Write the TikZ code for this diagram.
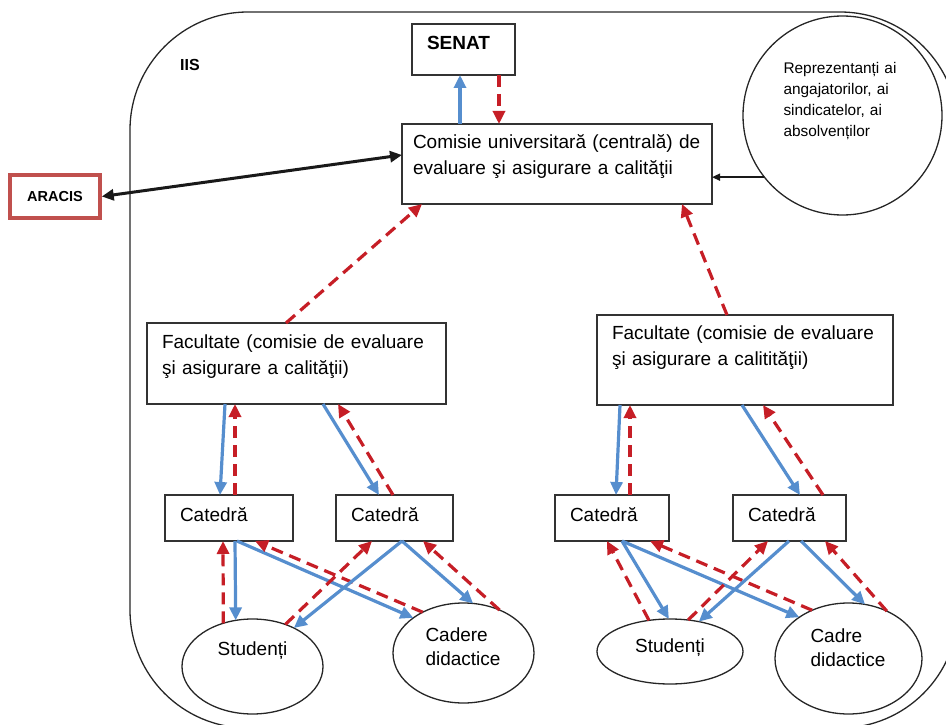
\documentclass[tikz,border=0pt]{standalone}
\usepackage{fontspec}
\setmainfont{Liberation Sans}
\usetikzlibrary{arrows.meta,shapes.geometric}

\definecolor{flowblue}{RGB}{86,142,206}
\definecolor{backred}{RGB}{198,30,38}
\definecolor{aracisred}{RGB}{192,80,77}

\begin{document}
\begin{tikzpicture}[x=1pt,y=-1pt,
    box/.style={draw=black!80, line width=1.3pt, rectangle, inner xsep=15pt, inner ysep=0pt, outer sep=0pt, align=left, font=\fontsize{19}{26}\selectfont},
    oval/.style={draw=black!85, line width=1.3pt, ellipse, inner sep=0pt, outer sep=0pt, font=\fontsize{19}{24}\selectfont},
    tip/.style={-{Triangle[length=13pt,width=12pt]}},
    instr/.style={tip, draw=flowblue, line width=3.2pt},
    feedback/.style={tip, draw=backred, line width=3.2pt, dash pattern=on 12pt off 7pt}]
    \useasboundingbox (0,0) rectangle (946,725);
    \clip (0,0) rectangle (946,725);
    % IIS frame
    \draw [black!85, line width=1.3pt, rounded corners=118pt] (130,12) rectangle (958,728);
    \node [font=\bfseries\fontsize{16}{19}\selectfont] (iis) at (190,65) {IIS};
    % central level
    \node [box, minimum width=103pt, minimum height=51pt, text width=73pt, text depth=13pt, font=\bfseries\fontsize{19}{26}\selectfont] (senat) at (463.5,49.5) {SENAT};
    \node [box, inner xsep=11pt, minimum width=310pt, minimum height=80pt, text width=288pt, text depth=46pt] (com) at (557,164) {Comisie universitară (centrală) de\\evaluare şi asigurare a calităţii};
    \node [circle, draw=black!85, line width=1.3pt, minimum size=199pt, inner sep=0pt, text width=118pt, align=left, text depth=96pt, font=\fontsize{15.4}{21}\selectfont] (rep) at (842.5,115.5) {Reprezentanți ai\\angajatorilor, ai\\sindicatelor, ai\\absolvenților};
    \node [draw=aracisred, line width=3.5pt, minimum width=90pt, minimum height=43pt, inner sep=0pt, font=\bfseries\fontsize{14.5}{17}\selectfont] (aracis) at (55,196.5) {ARACIS};
    % faculties
    \node [box, minimum width=299pt, minimum height=81pt, text width=269pt, text depth=43pt] (fac1) at (296.5,363.5) {Facultate (comisie de evaluare\\şi asigurare a calităţii)};
    \node [box, minimum width=296pt, minimum height=90pt, text width=266pt, text depth=54pt] (fac2) at (745,360) {Facultate (comisie de evaluare\\şi asigurare a calitităţii)};
    % departments
    \node [box, minimum width=128pt, minimum height=46pt, text width=98pt, text depth=8pt] (cat1) at (229,518) {Catedră};
    \node [box, minimum width=117pt, minimum height=46pt, text width=87pt, text depth=8pt] (cat2) at (394.5,518) {Catedră};
    \node [box, minimum width=114pt, minimum height=46pt, text width=84pt, text depth=8pt] (cat3) at (612,518) {Catedră};
    \node [box, minimum width=113pt, minimum height=46pt, text width=83pt, text depth=8pt] (cat4) at (789.5,518) {Catedră};
    % students and staff
    \node [oval, minimum width=141pt, minimum height=95pt, text depth=35pt] (stud1) at (252.5,666.5) {Studenți};
    \node [oval, minimum width=141pt, minimum height=100pt, text width=76pt, align=left, text depth=36pt] (cad1) at (463.5,653) {Cadere\\didactice};
    \node [oval, minimum width=146pt, minimum height=65pt, text depth=11pt] (stud2) at (670,651.5) {Studenți};
    \node [oval, minimum width=147pt, minimum height=111pt, text width=76pt, align=left, text depth=45pt] (cad2) at (848.5,658.5) {Cadre\\didactice};
    % top links
    \draw [black!90, line width=3pt, {Triangle[length=12pt,width=11pt]}-{Triangle[length=12pt,width=11pt]}] (aracis.east) -- (com.west |- 0,155);
    \draw [black!90, line width=1.5pt, -{Triangle[length=8pt,width=7pt]}] (rep.218) -- (rep.218 -| com.east);
    \draw [instr] (com.north -| 460,0) -- (senat.south -| 460,0);
    \draw [feedback] (senat.south -| 499,0) -- (com.north -| 499,0);
    \draw [feedback] (fac1.north -| 286,0) -- (com.south -| 422,0);
    \draw [feedback] (fac2.north -| 727,0) -- (com.south -| 682,0);
    % left faculty
    \draw [instr] (fac1.south -| 225,0) -- (cat1.north -| 220,0);
    \draw [feedback] (cat1.north -| 235,0) -- (fac1.south -| 235,0);
    \draw [instr] (fac1.south -| 323,0) -- (cat2.north -| 379,0);
    \draw [feedback] (cat2.north -| 393,0) -- (fac1.south -| 338,0);
    \draw [instr] (cat1.south -| 235,0) -- (stud1.110);
    \draw [instr] (cat1.south -| 237,0) -- (cad1.145);
    \draw [feedback] (stud1.124) -- (cat1.south -| 223,0);
    \draw [feedback] (cad1.135) -- (cat1.south -| 255,0);
    \draw [instr] (cat2.south -| 402,0) -- (stud1.43);
    \draw [instr] (cat2.south -| 402,0) -- (cad1.79);
    \draw [feedback] (stud1.52) -- (cat2.south -| 372,0);
    \draw [feedback] (cad1.50) -- (cat2.south -| 423,0);
    % right faculty
    \draw [instr] (fac2.south -| 620,0) -- (cat3.north -| 616,0);
    \draw [feedback] (cat3.north -| 630,0) -- (fac2.south -| 630,0);
    \draw [instr] (fac2.south -| 742,0) -- (cat4.north -| 800,0);
    \draw [feedback] (cat4.north -| 823,0) -- (fac2.south -| 763,0);
    \draw [instr] (cat3.south -| 622,0) -- (stud2.92);
    \draw [instr] (cat3.south -| 622,0) -- (cad2.140);
    \draw [feedback] (stud2.124) -- (cat3.south -| 607,0);
    \draw [feedback] (cad2.127) -- (cat3.south -| 650,0);
    \draw [instr] (cat4.south -| 789,0) -- (stud2.46);
    \draw [instr] (cat4.south -| 801,0) -- (cad2.73);
    \draw [feedback] (stud2.60) -- (cat4.south -| 768,0);
    \draw [feedback] (cad2.51) -- (cat4.south -| 825,0);
\end{tikzpicture}
\end{document}
